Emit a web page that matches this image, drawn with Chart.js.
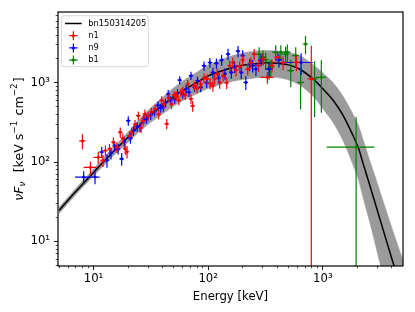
<!DOCTYPE html>
<html>
<head>
<meta charset="utf-8">
<script src="https://cdn.jsdelivr.net/npm/chart.js@4.4.1/dist/chart.umd.min.js"></script>
<style>
  html, body { margin: 0; padding: 0; background: #fff; }
  #wrap { width: 415px; height: 312px; }
</style>
</head>
<body>
<div id="wrap"><canvas id="myChart"></canvas></div>
<script>
// best-fit model and its uncertainty band
const modelE = [5, 7, 10, 12, 15, 20, 25, 30, 40, 50, 60, 80, 100, 150, 200, 300, 400, 500, 630, 820, 1000, 1220, 1500, 1820, 2050, 2230, 2500, 2770, 3100, 3550, 4200, 5000];
const modelV = [24.5, 42.5, 74, 98, 137, 206, 290, 370, 520, 670, 800, 1010, 1220, 1500, 1660, 1780, 1760, 1680, 1480, 1120, 840, 610, 388, 221, 148, 98.8, 57.8, 35.3, 20.5, 10.7, 4.78, 2.07];
const bandHi = [26.9, 46.6, 82.1, 110, 155.5, 239, 345, 450, 655, 863, 1054, 1362, 1684, 2120, 2372, 2544, 2515, 2428, 2189, 1696, 1331, 1013, 674, 411, 289, 197, 118, 75.5, 45.9, 25.1, 12.0, 5.83];
const bandLo = [22.3, 38.8, 66.7, 87.3, 120.7, 177.4, 241, 301, 404, 508, 593, 732, 844, 1014, 1096, 1176, 1162, 1085, 934, 675, 472, 320, 186, 94.3, 58.9, 36.7, 20.0, 11.2, 5.78, 2.69, 0.954, 0.328];

// n1 detector
const n1E  = [8.0, 9.4, 11.0, 12.1, 12.7, 13.8, 14.9, 16.0, 17.1, 18.0, 18.9, 19.6, 20.6, 21.5, 23.0, 24.6, 26.0, 27.0, 28.1, 30.0, 32.0, 34.5, 37.0, 39.3, 41.0, 43.5, 45.5, 47.9, 50.5, 52.8, 55.5, 58.0, 60.1, 63.0, 66.3, 70.8, 73.2, 75.6, 80.0, 86.1, 92.0, 98.1, 104, 110, 114, 120, 126, 135, 145, 154, 164, 175, 188, 200, 221, 236, 252, 275, 300, 328, 360, 402, 450, 588, 793];
const n1V  = [185, 86, 115, 105, 140, 147, 178, 154, 238, 200, 147, 135, 215, 238, 300, 385, 270, 330, 405, 380, 430, 470, 400, 600, 540, 304, 640, 540, 700, 688, 600, 760, 795, 700, 965, 625, 510, 920, 850, 965, 1150, 1120, 980, 920, 1120, 1300, 1010, 1230, 1000, 1640, 1800, 1450, 1600, 1940, 1490, 1800, 2300, 1650, 2000, 1170, 1650, 2100, 1800, 1810, 1117];
const n1dE = [0.5, 1.2, 1.0, 0.6, 0.6, 0.6, 0.7, 0.7, 0.8, 0.8, 0.9, 0.9, 1.0, 1.0, 1.1, 1.2, 1.2, 1.3, 1.3, 1.4, 1.5, 1.6, 1.7, 1.8, 1.9, 2.0, 2.1, 2.2, 2.3, 2.4, 2.5, 2.6, 2.8, 2.9, 3.0, 3.2, 3.3, 3.4, 3.6, 3.9, 4.2, 4.4, 4.7, 5.0, 5.2, 5.5, 5.7, 6.1, 6.5, 7, 7.5, 8, 8.5, 9, 10, 11, 12, 13, 15, 43, 20, 25, 30, 35, 55];
const n1dV = [40, 16, 20, 18, 22, 22, 26, 24, 34, 30, 24, 24, 30, 34, 40, 50, 38, 45, 55, 50, 55, 60, 55, 75, 70, 45, 80, 70, 85, 85, 80, 95, 100, 95, 120, 90, 80, 120, 115, 130, 160, 160, 150, 150, 170, 200, 170, 200, 170, 260, 280, 240, 260, 310, 250, 290, 360, 280, 330, 200, 300, 350, 350, 400, 1810];

// n9 detector
const n9E  = [8.2, 10.3, 11.8, 13.1, 14.2, 15.3, 16.4, 17.6, 18.5, 20.1, 21.0, 22.3, 24.0, 25.5, 27.5, 29.0, 31.5, 34.0, 36.5, 38.5, 40.6, 42.5, 44.8, 47.0, 51.1, 54.0, 56.5, 60.0, 64.2, 68.0, 70.8, 76.0, 80.7, 86.0, 91.9, 97.0, 103.5, 110, 118, 124, 131, 140, 149, 159, 170, 182, 194, 200, 213, 230, 244, 261, 289, 340, 414, 646];
const n9V  = [64.7, 64.7, 134, 105, 130, 160, 147, 110, 180, 333, 200, 250, 280, 275, 350, 350, 390, 430, 520, 480, 492, 560, 722, 600, 625, 740, 1080, 720, 835, 760, 1230, 880, 1060, 880, 1640, 1000, 1800, 1350, 1760, 1150, 1940, 1300, 2300, 1350, 1600, 2500, 1350, 2200, 1010, 1700, 1640, 1490, 1940, 1490, 1940, 1800];
const n9dE = [1.3, 1.0, 0.6, 0.6, 0.7, 0.7, 0.7, 0.8, 0.8, 0.9, 1.0, 1.0, 1.1, 1.2, 1.3, 1.3, 1.4, 1.5, 1.6, 1.7, 1.8, 1.9, 2.0, 2.1, 2.3, 2.4, 2.5, 2.7, 2.9, 3.0, 3.2, 3.4, 3.6, 3.9, 4.1, 4.4, 4.7, 5.0, 5.3, 5.6, 5.9, 6.3, 6.7, 7.2, 7.7, 8.2, 8.7, 9, 10, 11, 12, 13, 15, 25, 30, 172];
const n9dV = [12, 12, 22, 20, 22, 24, 22, 20, 28, 45, 30, 36, 38, 38, 45, 45, 50, 55, 65, 62, 62, 70, 88, 78, 80, 92, 130, 92, 105, 98, 150, 115, 135, 120, 220, 140, 250, 200, 260, 180, 300, 210, 380, 230, 270, 400, 240, 370, 200, 300, 290, 270, 340, 290, 380, 550];

// b1 detector
const b1E  = [278, 301, 317, 340, 352, 388, 430, 473, 490, 525, 580, 640, 706, 847, 970, 1950];
const b1V  = [2300, 2100, 1940, 1490, 1570, 2430, 2430, 2300, 2430, 1420, 2200, 1010, 3080, 1120, 1170, 154];
const b1dE = [20, 22, 22, 25, 25, 28, 30, 32, 32, 35, 40, 45, 40, 50, 100, 870];
const b1dV = [500, 450, 450, 400, 400, 550, 550, 550, 600, 540, 600, 550, 800, 750, 750, 214];

// axes
const xTickVals = [5, 6, 7, 8, 9, 10, 20, 30, 40, 50, 60, 70, 80, 90, 100, 200, 300, 400, 500, 600, 700, 800, 900, 1000, 2000, 3000, 4000];
const yTickVals = [5, 6, 7, 8, 9, 10, 20, 30, 40, 50, 60, 70, 80, 90, 100, 200, 300, 400, 500, 600, 700, 800, 900, 1000, 2000, 3000, 4000, 5000, 6000, 7000];
const tickLabels = { 10: "10¹", 100: "10²", 1000: "10³" };

// y label pieces: text, script level (0 normal, -1 sub, 1 sup), italic
const yTitleParts = [
    ["ν", 0, true], ["F", 0, true], ["ν", -1, true],
    ["  [keV s", 0, false], ["−1", 1, false],
    [" cm", 0, false], ["−2", 1, false], ["]", 0, false]
];

const legendItems = [
    { label: "bn150314205", color: "#000000", kind: "line" },
    { label: "n1", color: "#ff0000", kind: "err" },
    { label: "n9", color: "#0000ff", kind: "err" },
    { label: "b1", color: "#008000", kind: "err" }
];

const FONT = "'DejaVu Sans', sans-serif";
Chart.defaults.font.family = FONT;
Chart.defaults.color = "#000";

function toXY(xs, ys) {
    return xs.map((x, i) => ({ x: x, y: ys[i] }));
}

// error bars as broken line paths (null points break the line)
function errorSegments(E, V, dE, dV) {
    const pts = [];
    for (let i = 0; i < E.length; i++) {
        pts.push({ x: E[i] - dE[i], y: V[i] }, { x: E[i] + dE[i], y: V[i] }, { x: E[i], y: null });
        const lo = V[i] - dV[i] > 0 ? V[i] - dV[i] : 0.5;
        pts.push({ x: E[i], y: lo }, { x: E[i], y: V[i] + dV[i] }, { x: E[i], y: null });
    }
    return pts;
}

function errDataset(E, V, dE, dV, color) {
    return {
        data: errorSegments(E, V, dE, dV),
        borderColor: color,
        borderWidth: 1.2,
        pointRadius: 0,
        spanGaps: false,
        fill: false,
        order: 0
    };
}

function dotDataset(E, V, color) {
    return {
        data: toXY(E, V),
        showLine: false,
        pointRadius: 1.5,
        pointBorderWidth: 0,
        pointBackgroundColor: color,
        order: 0
    };
}

const isMajor = v => v === 10 || v === 100 || v === 1000;

function gridOpts(vertical) {
    return {
        drawOnChartArea: false,
        drawTicks: true,
        tickLength: 4,
        tickColor: "#000",
        tickWidth: c => (c.tick && isMajor(c.tick.value) ? 0.9 : 0.7),
        tickBorderDash: c => {
            if (c.tick && isMajor(c.tick.value)) return [];
            return vertical ? [0, 1.7, 2.3, 0] : [2.3, 10];
        }
    };
}

const frameAndLegend = {
    id: "frameAndLegend",
    afterDraw(chart) {
        const { ctx, chartArea: a } = chart;
        ctx.save();
        ctx.strokeStyle = "#000";
        ctx.lineWidth = 1.2;
        ctx.strokeRect(a.left, a.top, a.right - a.left, a.bottom - a.top);

        // legend box
        const bx = a.left + 3.7, by = a.top + 3.7, bw = 86.6, bh = 51;
        ctx.fillStyle = "rgba(255,255,255,0.85)";
        ctx.strokeStyle = "#cccccc";
        ctx.lineWidth = 0.8;
        ctx.beginPath();
        ctx.roundRect(bx, by, bw, bh, 2.5);
        ctx.fill();
        ctx.stroke();

        ctx.font = "8.3px " + FONT;
        ctx.textBaseline = "middle";
        legendItems.forEach((it, i) => {
            const y = by + 7.8 + i * 12.2;
            const cx = bx + 11.7;
            ctx.strokeStyle = it.color;
            ctx.fillStyle = it.color;
            if (it.kind === "line") {
                ctx.lineWidth = 1.5;
                ctx.beginPath();
                ctx.moveTo(bx + 3.3, y);
                ctx.lineTo(bx + 20, y);
                ctx.stroke();
            } else {
                ctx.lineWidth = 1.2;
                ctx.beginPath();
                ctx.moveTo(cx - 4.2, y);
                ctx.lineTo(cx + 4.2, y);
                ctx.moveTo(cx, y - 4.5);
                ctx.lineTo(cx, y + 4.5);
                ctx.stroke();
                ctx.beginPath();
                ctx.arc(cx, y, 1.5, 0, Math.PI * 2);
                ctx.fill();
            }
            ctx.fillStyle = "#000";
            ctx.fillText(it.label, bx + 26.6, y);
        });

        // y axis label with sub/superscripts
        const big = 12.6, small = 8.8;
        const fontFor = p => (p[2] ? "italic " : "") + (p[1] === 0 ? big : small) + "px " + FONT;
        let total = 0;
        yTitleParts.forEach(p => {
            ctx.font = fontFor(p);
            total += ctx.measureText(p[0]).width + (p[1] !== 0 ? 1.2 : 0);
        });
        ctx.translate(22.5, (a.top + a.bottom) / 2);
        ctx.rotate(-Math.PI / 2);
        ctx.fillStyle = "#000";
        ctx.textBaseline = "alphabetic";
        let x = -total / 2;
        yTitleParts.forEach(p => {
            ctx.font = fontFor(p);
            const dy = p[1] === 1 ? -5.2 : (p[1] === -1 ? 2.6 : 0);
            ctx.fillText(p[0], x, dy);
            x += ctx.measureText(p[0]).width + (p[1] !== 0 ? 1.2 : 0);
        });
        ctx.restore();
    }
};

const ctx = document.getElementById("myChart").getContext("2d");

new Chart(ctx, {
    type: "line",
    data: {
        datasets: [
            errDataset(n1E, n1V, n1dE, n1dV, "#ff0000"),
            dotDataset(n1E, n1V, "#ff0000"),
            errDataset(n9E, n9V, n9dE, n9dV, "#0000ff"),
            dotDataset(n9E, n9V, "#0000ff"),
            errDataset(b1E, b1V, b1dE, b1dV, "#008000"),
            dotDataset(b1E, b1V, "#008000"),
            {
                data: toXY(modelE, modelV),
                borderColor: "#000",
                borderWidth: 1.5,
                pointRadius: 0,
                tension: 0.3,
                fill: false,
                order: 1
            },
            {
                data: toXY(modelE, bandHi),
                borderColor: "#9b9b9b",
                borderWidth: 0.5,
                backgroundColor: "#9b9b9b",
                pointRadius: 0,
                tension: 0.3,
                fill: "+1",
                order: 2
            },
            {
                data: toXY(modelE, bandLo),
                borderColor: "#9b9b9b",
                borderWidth: 0.5,
                pointRadius: 0,
                tension: 0.3,
                fill: false,
                order: 2
            }
        ]
    },
    options: {
        responsive: true,
        maintainAspectRatio: false,
        animation: false,
        events: [],
        layout: { padding: { left: 0, right: 12, top: 12, bottom: 0 } },
        plugins: {
            legend: { display: false },
            tooltip: { enabled: false }
        },
        scales: {
            x: {
                type: "logarithmic",
                min: 4.9,
                max: 5000,
                afterBuildTicks: s => { s.ticks = xTickVals.map(v => ({ value: v })); },
                afterFit: s => { s.height = 46; },
                ticks: {
                    autoSkip: false,
                    maxRotation: 0,
                    padding: 2,
                    font: { size: 11.7 },
                    callback: v => tickLabels[v] || ""
                },
                grid: gridOpts(false),
                border: { display: false },
                title: {
                    display: true,
                    text: "Energy [keV]",
                    font: { size: 11.7 },
                    padding: { top: 0, bottom: 8 }
                }
            },
            y: {
                type: "logarithmic",
                min: 4.9,
                max: 7800,
                afterBuildTicks: s => { s.ticks = yTickVals.map(v => ({ value: v })); },
                afterFit: s => { s.width = 58; },
                ticks: {
                    autoSkip: false,
                    padding: 4,
                    font: { size: 11.7 },
                    callback: v => tickLabels[v] || ""
                },
                grid: gridOpts(true),
                border: { display: false },
                title: { display: false }
            }
        }
    },
    plugins: [frameAndLegend]
});
</script>
</body>
</html>
